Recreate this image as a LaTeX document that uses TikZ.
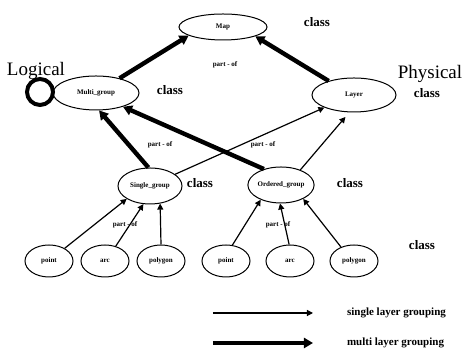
\documentclass[tikz,border=0pt]{standalone}
\usepackage{fontspec}
\setmainfont{Liberation Serif}
\usetikzlibrary{arrows.meta,shapes.geometric}
\tikzset{
  obj/.style={draw,ellipse,line width=0.5pt,inner sep=0pt,
    font=\bfseries\fontsize{3.5}{4}\selectfont},
  word/.style={font=\bfseries\fontsize{6.5}{7}\selectfont},
  side/.style={font=\fontsize{9.5}{11}\selectfont},
  partof/.style={font=\bfseries\fontsize{3.5}{4}\selectfont},
  singlearrow/.style={-{Triangle[length=3pt,width=3pt]},line width=0.6pt},
  multiarrow/.style={-{Triangle[length=4.5pt,width=5pt]},line width=2.2pt},
}
\begin{document}
\begin{tikzpicture}[x=0.5pt,y=-0.5pt]
      \useasboundingbox (0,0) rectangle (463,356);
      % classes
      \node[obj,minimum width=44pt,minimum height=13pt] (map) at (223,27) {Map};
      \node[obj,minimum width=43pt,minimum height=17pt] (multi) at (96,93) {Multi\_group};
      \node[obj,minimum width=42pt,minimum height=17pt] (layer) at (354,95) {Layer};
      \node[obj,minimum width=32pt,minimum height=18pt] (single) at (150,186) {Single\_group};
      \node[obj,minimum width=29pt,minimum height=18pt] (ordered) at (281,185) {Ordered\_group};
      \node[obj,minimum width=24pt,minimum height=16pt] (point1) at (49,261) {point};
      \node[obj,minimum width=24pt,minimum height=16pt] (arc1) at (105,261) {arc};
      \node[obj,minimum width=24pt,minimum height=16pt] (poly1) at (161,261) {polygon};
      \node[obj,minimum width=24pt,minimum height=16pt] (point2) at (226,261) {point};
      \node[obj,minimum width=24pt,minimum height=16pt] (arc2) at (290,261) {arc};
      \node[obj,minimum width=24pt,minimum height=16pt] (poly2) at (354,261) {polygon};
      \node[draw,circle,line width=2pt,minimum size=13pt,inner sep=0pt] (loop) at (40,92) {};
      % texts
      \node[side] (logical) at (36,71) {Logical};
      \node[side] (physical) at (430,74) {Physical};
      \node[word] (c1) at (317,22) {class};
      \node[word] (c2) at (170,90) {class};
      \node[word] (c3) at (427,93) {class};
      \node[word] (c4) at (200,183) {class};
      \node[word] (c5) at (350,183) {class};
      \node[word] (c6) at (422,245) {class};
      \node[partof] (p1) at (225,65) {part - of};
      \node[partof] (p2) at (160,145) {part - of};
      \node[partof] (p3) at (263,145) {part - of};
      \node[partof] (p4) at (125,225) {part - of};
      \node[partof] (p5) at (278,225) {part - of};
      % multi layer grouping
      \draw[multiarrow] (multi.32) -- (map.194);
      \draw[multiarrow] (layer.151) -- (map.344);
      \draw[multiarrow] (single.95) -- (multi.-80);
      \draw[multiarrow] (ordered.137) -- (multi.-27);
      % single layer grouping
      \draw[singlearrow] (single.25) -- (layer.203);
      \draw[singlearrow,shorten >=3pt] (ordered.38) -- (layer.-105);
      \draw[singlearrow] (point1.39) -- (single.209);
      \draw[singlearrow] (arc1.54) -- (single.250);
      \draw[singlearrow] (poly1.north) -- (single.-60);
      \draw[singlearrow] (point2.68) -- (ordered.216);
      \draw[singlearrow] (arc2.93) -- (ordered.267);
      \draw[singlearrow] (poly2.133) -- (ordered.-32);
      % legend
      \coordinate (s1) at (213,313);
      \coordinate (s2) at (313,313);
      \coordinate (m1) at (213,343);
      \coordinate (m2) at (313,343);
      \draw[singlearrow] (s1) -- (s2);
      \draw[multiarrow] (m1) -- (m2);
      \node[anchor=west,font=\bfseries\fontsize{5.5}{6}\selectfont] (ls) at (340,313) {single layer grouping};
      \node[anchor=west,font=\bfseries\fontsize{5.5}{6}\selectfont] (lm) at (340,343) {multi layer grouping};
\end{tikzpicture}
\end{document}
